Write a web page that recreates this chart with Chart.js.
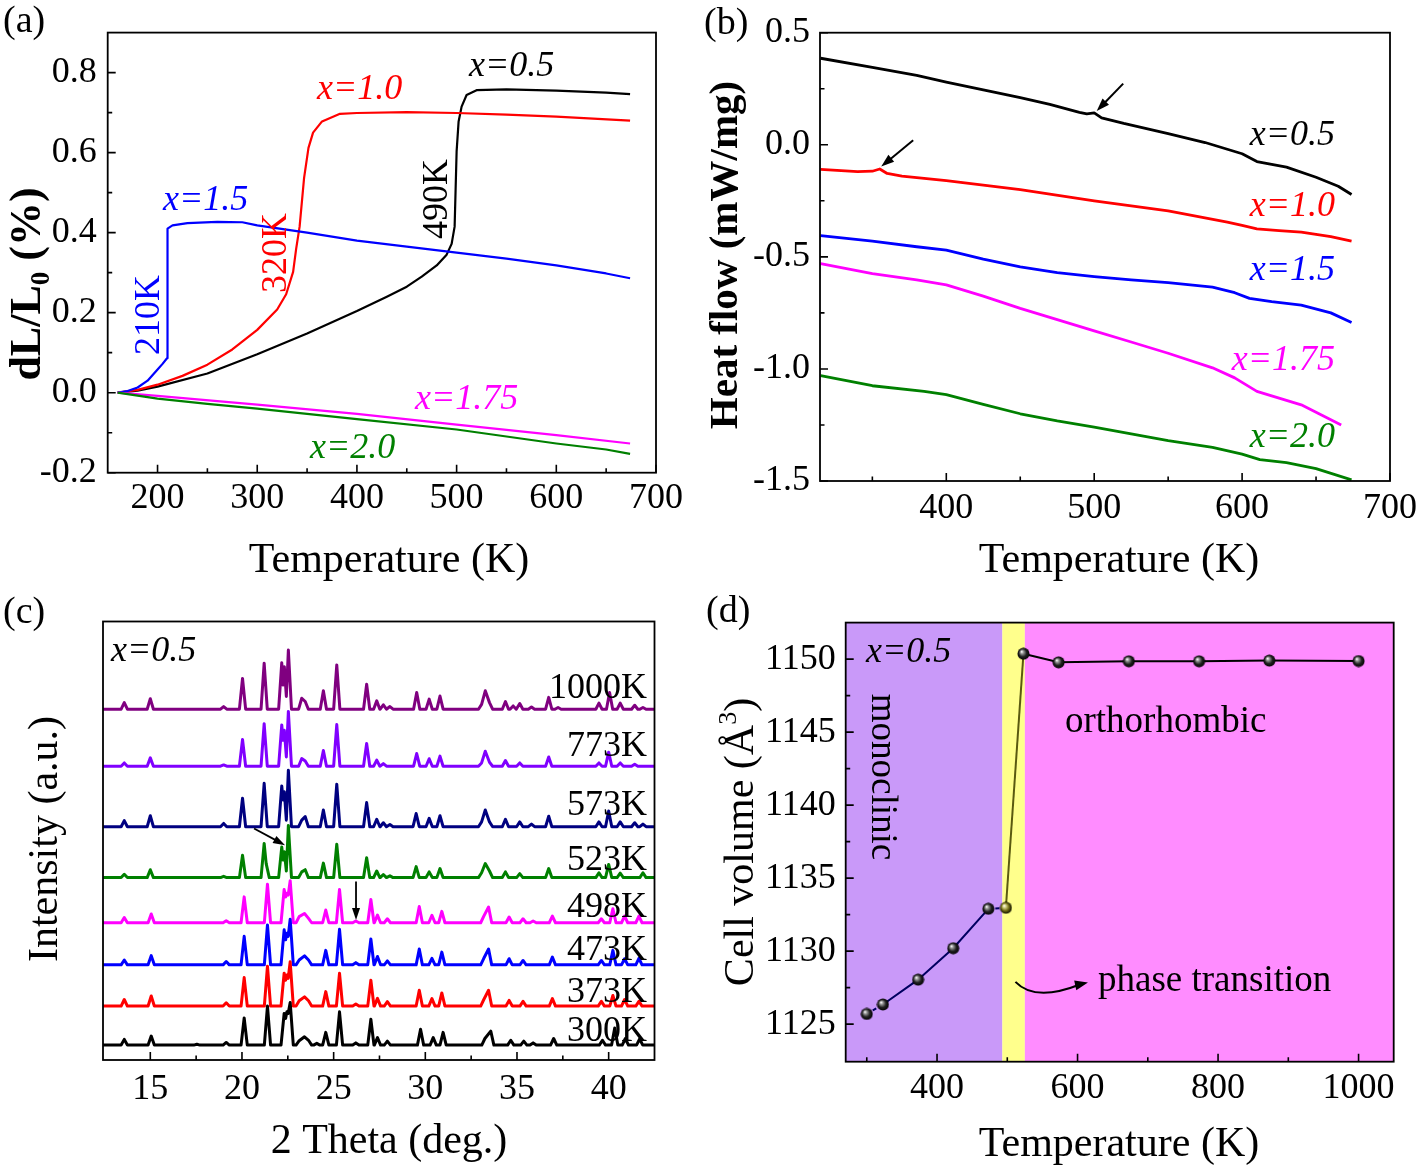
<!DOCTYPE html>
<html><head><meta charset="utf-8">
<script src="https://cdn.jsdelivr.net/npm/chart.js@4.4.1/dist/chart.umd.min.js"></script>
<style>
html,body{margin:0;padding:0;background:#fff;}
body{width:1423px;height:1169px;position:relative;overflow:hidden;}
canvas{position:absolute;}
</style></head><body>
<canvas id="ca" width="700" height="590" style="left:0;top:0"></canvas>
<canvas id="cb" width="723" height="590" style="left:700px;top:0"></canvas>
<canvas id="cc" width="700" height="579" style="left:0;top:590px"></canvas>
<canvas id="cd" width="723" height="579" style="left:700px;top:590px"></canvas>
<script>
// ---------------- DATA ----------------
// (a) dilatometry dL/L0 (%) vs T (K)
const aT05 = [160,180,200,250,300,350,400,430,450,465,480,490,495,498,499,500,502,505,510,520,550,600,650,674];
const aV05 = [0,0.005,0.015,0.048,0.096,0.148,0.204,0.24,0.265,0.29,0.318,0.345,0.372,0.415,0.509,0.603,0.678,0.715,0.744,0.756,0.758,0.755,0.75,0.746];
const aT10 = [160,180,200,225,250,275,300,320,329,336,339,342.5,347,351.4,356,365,383,400,450,500,550,600,674];
const aV10 = [0,0.007,0.02,0.042,0.07,0.108,0.157,0.208,0.246,0.302,0.359,0.415,0.537,0.612,0.65,0.678,0.697,0.699,0.701,0.699,0.695,0.69,0.68];
const aT15 = [160,170,180,190,200,205,209.5,210,215,230,260,285,300,350,400,450,500,550,600,650,674];
const aV15 = [0,0.004,0.013,0.03,0.058,0.072,0.086,0.41,0.418,0.424,0.427,0.426,0.418,0.4,0.38,0.365,0.35,0.335,0.318,0.298,0.286];
const aT175 = [160,200,300,400,500,600,674];
const aV175 = [0,-0.008,-0.03,-0.053,-0.08,-0.106,-0.127];
const aT20 = [160,200,250,300,400,500,600,650,674];
const aV20 = [0,-0.015,-0.028,-0.04,-0.066,-0.092,-0.127,-0.142,-0.153];
const aXTicks = [200,300,400,500,600,700];
const aXMinor = [250,350,450,550,650];
const aYTicks = [-0.2,0,0.2,0.4,0.6,0.8];
const aYMinor = [-0.1,0.1,0.3,0.5,0.7];

// (b) DSC heat flow (mW/mg) vs T (K)
const bT05 = [315,350,380,400,425,450,470,490,495,500,505,520,550,575,590,600,610,630,650,665,674];
const bV05 = [0.386,0.345,0.31,0.28,0.245,0.21,0.18,0.145,0.138,0.142,0.12,0.095,0.05,0.01,-0.02,-0.04,-0.075,-0.1,-0.145,-0.185,-0.222];
const bT10 = [315,340,350,355,360,370,400,450,500,550,590,600,610,625,640,660,674];
const bV10 = [-0.11,-0.12,-0.118,-0.108,-0.128,-0.14,-0.16,-0.2,-0.25,-0.295,-0.345,-0.36,-0.375,-0.383,-0.39,-0.41,-0.43];
const bT15 = [315,350,380,400,425,450,475,500,525,550,580,595,605,620,640,660,674];
const bV15 = [-0.405,-0.43,-0.455,-0.47,-0.51,-0.545,-0.57,-0.588,-0.603,-0.615,-0.635,-0.66,-0.685,-0.7,-0.715,-0.75,-0.793];
const bT175 = [315,350,380,400,425,450,475,500,525,550,580,595,610,625,640,655,667];
const bV175 = [-0.53,-0.575,-0.603,-0.625,-0.675,-0.73,-0.78,-0.83,-0.88,-0.93,-0.995,-1.04,-1.1,-1.13,-1.16,-1.21,-1.25];
const bT20 = [315,350,385,400,425,450,475,500,525,550,580,600,612,630,650,674];
const bV20 = [-1.03,-1.075,-1.1,-1.115,-1.158,-1.2,-1.232,-1.26,-1.29,-1.32,-1.35,-1.38,-1.405,-1.418,-1.445,-1.495];
const bXTicks = [400,500,600,700];
const bXMinor = [350,450,550,650];
const bYTicks = [-1.5,-1.0,-0.5,0,0.5];
const bYMinor = [-1.25,-0.75,-0.25,0.25];

// (c) XRD patterns, x=0.5 : [2theta, intensity] peaks, plus vertical offsets
const xrdLabels = ['300K','373K','473K','498K','523K','573K','773K','1000K'];
const xrdOffsets = [3.4,12.3,21.7,31.3,41.6,53.2,67.0,80.0];
const xrd300 = [[13.58,1.3],[15.05,2.05],[17.54,0.2],[19.14,0.6],[20.12,6.2],[21.39,8.9],[22.3,7.2],[22.38,6.1],[22.45,7.6],[22.52,7.2],[22.63,9.7],[23.12,1.0],[23.41,1.9],[23.63,1.1],[24.08,0.4],[24.57,2.9],[25.32,7.6],[26.21,0.5],[27.03,5.9],[27.39,1.7],[27.93,0.9],[29.74,3.6],[30.43,1.7],[30.97,2.9],[33.25,1.5],[33.57,3.2],[34.66,1.1],[35.37,0.9],[35.88,0.5],[37.0,1.5],[39.66,1.1],[40.33,3.9],[40.91,1.5],[41.69,1.4]];
const xrd373 = [[13.58,1.5],[15.05,2.3],[19.14,0.75],[20.12,6.5],[21.39,9.1],[22.3,7.5],[22.38,5.9],[22.45,7.1],[22.52,6.3],[22.63,10.1],[23.12,1.2],[23.41,2.1],[23.63,1.2],[24.57,3.3],[25.32,7.5],[26.21,0.45],[27.03,5.9],[27.39,1.75],[27.93,1.0],[29.67,3.6],[30.36,1.7],[30.9,3.0],[33.19,1.5],[33.45,3.6],[34.57,1.3],[35.33,1.1],[36.93,1.7],[39.6,1.1],[40.23,2.4],[40.87,1.5],[41.65,1.1]];
const xrd473 = [[13.58,1.1],[15.05,2.1],[19.14,0.75],[20.12,6.5],[21.39,9.1],[22.3,8.0],[22.38,5.7],[22.45,7.2],[22.52,6.5],[22.63,10.4],[23.12,1.1],[23.41,2.05],[23.63,1.1],[24.57,3.3],[25.32,8.1],[26.21,0.5],[27.03,5.9],[27.39,1.9],[27.93,0.9],[29.67,3.6],[30.36,1.5],[30.9,2.9],[33.19,1.5],[33.45,3.6],[34.57,1.4],[35.33,1.0],[36.93,1.75],[39.6,1.0],[40.23,3.3],[40.87,1.4],[41.65,1.5]];
const xrd498 = [[13.58,1.2],[15.05,2.0],[19.14,0.45],[20.12,5.9],[21.39,8.8],[22.3,7.6],[22.38,5.9],[22.45,6.7],[22.52,6.3],[22.63,9.6],[23.12,1.4],[23.41,2.1],[23.63,1.0],[24.57,2.9],[25.32,7.6],[26.21,0.4],[27.03,5.3],[27.39,1.75],[27.93,0.9],[29.67,3.7],[30.36,1.7],[30.9,2.6],[33.19,1.5],[33.45,3.6],[34.57,1.3],[35.33,0.9],[35.88,0.4],[36.93,1.5],[39.6,0.9],[40.23,3.2],[40.87,1.5],[41.65,1.5]];
const xrd523 = [[13.58,0.75],[15.0,1.8],[19.0,0.3],[20.03,5.1],[21.21,7.8],[21.32,3.2],[22.17,7.0],[22.24,4.0],[22.31,5.9],[22.42,1.5],[22.53,11.9],[23.26,1.3],[23.45,1.8],[24.44,3.3],[25.17,7.6],[26.8,4.5],[27.35,1.5],[27.71,0.7],[28.07,0.4],[29.5,2.5],[30.21,1.3],[30.8,2.05],[33.07,1.1],[33.27,3.2],[33.5,1.5],[34.37,1.3],[35.15,0.9],[36.73,2.05],[39.47,1.1],[40.0,3.0],[40.63,1.0],[41.87,1.1]];
const xrd573 = [[13.58,1.4],[15.0,2.5],[19.0,0.75],[20.03,6.5],[21.21,9.9],[22.17,9.3],[22.24,6.1],[22.31,8.0],[22.42,1.5],[22.53,12.9],[23.26,1.5],[23.45,2.3],[24.44,3.8],[25.17,9.7],[26.8,5.5],[27.35,1.7],[27.71,0.9],[28.07,0.5],[29.5,3.0],[30.21,1.9],[30.8,2.5],[33.07,1.1],[33.27,3.8],[33.5,1.1],[34.37,1.7],[35.15,1.1],[35.79,0.6],[36.73,2.4],[39.47,1.1],[40.0,3.6],[40.63,1.1],[41.42,0.9],[41.87,0.6]];
const xrd773 = [[13.58,0.75],[15.0,1.9],[19.0,0.3],[20.03,6.1],[21.21,9.7],[22.17,9.4],[22.24,5.9],[22.31,8.2],[22.42,2.1],[22.53,12.5],[23.26,1.75],[23.45,1.2],[24.44,3.6],[25.17,9.5],[26.8,5.2],[27.35,1.4],[27.71,0.6],[29.53,2.9],[30.21,1.7],[30.8,2.3],[33.07,0.75],[33.27,3.4],[33.5,0.9],[34.37,1.3],[35.15,0.75],[36.73,2.1],[39.47,0.75],[40.0,3.2],[40.63,0.75],[41.42,0.45]];
const xrd1000 = [[13.58,1.5],[15.0,2.4],[19.0,0.6],[20.03,7.0],[21.21,10.5],[22.17,10.6],[22.24,5.5],[22.31,9.7],[22.42,2.9],[22.53,13.5],[23.26,2.5],[23.45,1.75],[24.44,4.2],[25.17,10.1],[26.8,5.7],[27.35,1.9],[27.71,1.0],[28.07,0.6],[29.53,3.8],[30.21,2.3],[30.8,3.0],[33.07,1.1],[33.27,4.2],[33.5,1.5],[34.37,1.75],[34.79,0.75],[35.15,1.3],[35.79,0.5],[36.73,2.7],[37.24,0.4],[39.47,1.4],[40.05,3.8],[40.63,1.4],[41.42,0.9],[41.87,0.4]];
const xrdPatterns = [xrd300,xrd373,xrd473,xrd498,xrd523,xrd573,xrd773,xrd1000];
const cXTicks = [15,20,25,30,35,40];
const cXMinor = [17.5,22.5,27.5,32.5,37.5];

// (d) cell volume vs T
const dT = [300,323,373,423,473,498,523,573,673,773,873,1000];
const dV = [1125.7,1126.35,1128.05,1130.2,1132.9,1132.97,1150.37,1149.78,1149.85,1149.85,1149.9,1149.87];
const dPhaseBounds = [493,525];
const dXTicks = [400,600,800,1000];
const dXMinor = [300,500,700,900];
const dYTicks = [1125,1130,1135,1140,1145,1150];
const dYMinor = [1127.5,1132.5,1137.5,1142.5,1147.5];

// ---------------- HELPERS ----------------
const SERIF = "'Liberation Serif','Times New Roman',serif";
const xy = (xs, ys) => xs.map((x, i) => ({x, y: ys[i]}));

function xrdLine(peaks, offset, xmin, xmax, w) {
  const pts = [{x: xmin, y: offset}];
  peaks.forEach((p, i) => {
    const prev = peaks[i - 1], next = peaks[i + 1];
    if (!prev || p[0] - prev[0] >= 2 * w) pts.push({x: p[0] - w, y: offset});
    pts.push({x: p[0], y: offset + p[1]});
    if (!next || next[0] - p[0] >= 2 * w) pts.push({x: p[0] + w, y: offset});
  });
  pts.push({x: xmax, y: offset});
  return pts;
}

function axisX(min, max, ticks, fmt, height, pad) {
  return {type: 'linear', position: 'bottom', min, max,
    afterBuildTicks: s => { s.ticks = ticks.map(v => ({value: v})); },
    afterFit: s => { s.height = height; },
    grid: {display: false, drawTicks: false}, border: {display: false},
    ticks: {color: '#000', font: {family: SERIF, size: 36}, padding: pad, autoSkip: false, maxRotation: 0, minRotation: 0, callback: fmt}};
}
function axisY(min, max, ticks, fmt, width, pad, show = true) {
  return {type: 'linear', position: 'left', min, max,
    afterBuildTicks: s => { s.ticks = ticks.map(v => ({value: v})); },
    afterFit: s => { s.width = width; },
    grid: {display: false, drawTicks: false}, border: {display: false},
    ticks: {display: show, color: '#000', font: {family: SERIF, size: 36}, padding: pad, autoSkip: false, callback: fmt}};
}

function txt(ctx, s, x, y, font, color = '#000', align = 'left', rot = 0, baseline = 'alphabetic') {
  ctx.save(); ctx.translate(x, y); if (rot) ctx.rotate(rot);
  ctx.font = font; ctx.fillStyle = color; ctx.textAlign = align; ctx.textBaseline = baseline;
  ctx.fillText(s, 0, 0); ctx.restore();
}
function rich(ctx, parts, cx, cy, size, weight, rot) {
  ctx.save(); ctx.translate(cx, cy); if (rot) ctx.rotate(rot);
  const f = m => `${weight} ${m ? Math.round(size * 0.62) : size}px ${SERIF}`;
  let total = 0;
  parts.forEach(([t, m]) => { ctx.font = f(m); total += ctx.measureText(t).width; });
  let x = -total / 2; ctx.textBaseline = 'alphabetic'; ctx.fillStyle = '#000'; ctx.textAlign = 'left';
  parts.forEach(([t, m]) => { ctx.font = f(m); const dy = m === 1 ? size * 0.2 : m === 2 ? -size * 0.4 : 0; ctx.fillText(t, x, dy); x += ctx.measureText(t).width; });
  ctx.restore();
}
function arrow(ctx, x1, y1, x2, y2, head = 13, half = 4.5, lw = 2) {
  const ang = Math.atan2(y2 - y1, x2 - x1);
  ctx.save(); ctx.strokeStyle = '#000'; ctx.fillStyle = '#000'; ctx.lineWidth = lw;
  ctx.beginPath(); ctx.moveTo(x1, y1); ctx.lineTo(x2 - Math.cos(ang) * head * 0.8, y2 - Math.sin(ang) * head * 0.8); ctx.stroke();
  ctx.beginPath(); ctx.moveTo(x2, y2);
  ctx.lineTo(x2 - Math.cos(ang) * head - Math.sin(ang) * half, y2 - Math.sin(ang) * head + Math.cos(ang) * half);
  ctx.lineTo(x2 - Math.cos(ang) * head + Math.sin(ang) * half, y2 - Math.sin(ang) * head - Math.cos(ang) * half);
  ctx.closePath(); ctx.fill(); ctx.restore();
}
const px = (chart, xv, yv) => [chart.scales.x.getPixelForValue(xv), chart.scales.y.getPixelForValue(yv)];

function framePlugin(o) {
  return {
    id: 'frameTicks',
    beforeDatasetsDraw(chart) { if (o.background) o.background(chart, chart.ctx); },
    afterDatasetsDraw(chart) {
      const {ctx, chartArea: a, scales: {x, y}} = chart;
      ctx.save(); ctx.strokeStyle = '#000'; ctx.lineWidth = 1.6;
      ctx.beginPath();
      (o.xMajor || []).forEach(v => { const p = x.getPixelForValue(v); ctx.moveTo(p, a.bottom); ctx.lineTo(p, a.bottom - 8); });
      (o.xMinor || []).forEach(v => { const p = x.getPixelForValue(v); ctx.moveTo(p, a.bottom); ctx.lineTo(p, a.bottom - 4.5); });
      (o.yMajor || []).forEach(v => { const p = y.getPixelForValue(v); ctx.moveTo(a.left, p); ctx.lineTo(a.left + 8, p); });
      (o.yMinor || []).forEach(v => { const p = y.getPixelForValue(v); ctx.moveTo(a.left, p); ctx.lineTo(a.left + 4.5, p); });
      ctx.stroke();
      ctx.lineWidth = 1.8; ctx.strokeRect(a.left, a.top, a.right - a.left, a.bottom - a.top);
      ctx.restore();
      if (o.draw) o.draw(chart, ctx);
    }
  };
}
const baseOpts = (padding, scales) => ({
  responsive: false, animation: false, devicePixelRatio: 1, events: [],
  layout: {padding}, scales,
  plugins: {legend: {display: false}, tooltip: {enabled: false}, title: {display: false}}
});
const line = (data, color, w) => ({data, borderColor: color, borderWidth: w, pointRadius: 0, tension: 0, fill: false, borderJoinStyle: 'round'});

const RED = '#ff0000', BLUE = '#0000ff', MAG = '#ff00ff', GRN = '#008000';
const IT = `italic 36px ${SERIF}`, RM = `36px ${SERIF}`;
const fmt1 = v => v.toFixed(1), fmt0 = v => String(v);

// ---------------- (a) ----------------
new Chart(document.getElementById('ca'), {
  type: 'line',
  data: {datasets: [
    line(xy(aT20, aV20), GRN, 2.2), line(xy(aT175, aV175), MAG, 2.2),
    line(xy(aT15, aV15), BLUE, 2.2), line(xy(aT10, aV10), RED, 2.2), line(xy(aT05, aV05), '#000', 2.2)]},
  options: baseOpts({left: 0, top: 31, right: 44, bottom: 0}, {
    x: axisX(150, 700, aXTicks, fmt0, 117.3, 4),
    y: axisY(-0.2, 0.9, aYTicks, fmt1, 107.7, 11)}),
  plugins: [framePlugin({xMajor: aXTicks, xMinor: aXMinor, yMajor: aYTicks, yMinor: aYMinor,
    draw(chart, ctx) {
      txt(ctx, '(a)', 3, 32, `38px ${SERIF}`);
      txt(ctx, 'Temperature (K)', 389, 572, `42px ${SERIF}`, '#000', 'center');
      rich(ctx, [['dL/L', 0], ['0', 1], [' (%)', 0]], 40, 284, 44, 'bold', -Math.PI / 2);
      txt(ctx, 'x=0.5', 469, 76, IT, '#000');
      txt(ctx, 'x=1.0', 317, 99, IT, RED);
      txt(ctx, 'x=1.5', 163, 210, IT, BLUE);
      txt(ctx, 'x=1.75', 415, 409, IT, MAG);
      txt(ctx, 'x=2.0', 310, 458, IT, GRN);
      txt(ctx, '210K', 159, 315, RM, BLUE, 'center', -Math.PI / 2);
      txt(ctx, '320K', 286, 253, RM, RED, 'center', -Math.PI / 2);
      txt(ctx, '490K', 447, 199, RM, '#000', 'center', -Math.PI / 2);
    }})]
});

// ---------------- (b) ----------------
new Chart(document.getElementById('cb'), {
  type: 'line',
  data: {datasets: [
    line(xy(bT20, bV20), GRN, 2.8), line(xy(bT175, bV175), MAG, 2.8),
    line(xy(bT15, bV15), BLUE, 2.8), line(xy(bT10, bV10), RED, 2.8), line(xy(bT05, bV05), '#000', 2.8)]},
  options: baseOpts({left: 0, top: 32.7, right: 31.3, bottom: 0}, {
    x: axisX(314.6, 700, bXTicks, fmt0, 109, 6),
    y: axisY(-1.5, 0.5, bYTicks, fmt1, 120, 10)}),
  plugins: [framePlugin({xMajor: bXTicks, xMinor: bXMinor, yMajor: bYTicks, yMinor: bYMinor,
    draw(chart, ctx) {
      txt(ctx, '(b)', 4, 34, `38px ${SERIF}`);
      txt(ctx, 'Temperature (K)', 419, 572, `42px ${SERIF}`, '#000', 'center');
      rich(ctx, [['Heat flow (mW/mg)', 0]], 37, 255, 41, 'bold', -Math.PI / 2);
      txt(ctx, 'x=0.5', 635, 145, IT, '#000', 'right');
      txt(ctx, 'x=1.0', 635, 216, IT, RED, 'right');
      txt(ctx, 'x=1.5', 635, 280, IT, BLUE, 'right');
      txt(ctx, 'x=1.75', 635, 370, IT, MAG, 'right');
      txt(ctx, 'x=2.0', 635, 447, IT, GRN, 'right');
      let [x1, y1] = px(chart, 519.6, 0.273), [x2, y2] = px(chart, 501.7, 0.151);
      arrow(ctx, x1, y1, x2, y2);
      [x1, y1] = px(chart, 377.6, 0.02); [x2, y2] = px(chart, 356, -0.097);
      arrow(ctx, x1, y1, x2, y2);
    }})]
});

// ---------------- (c) ----------------
const xrdColors = ['#000000', '#ff0000', '#0000ff', '#ff00ff', '#008000', '#000080', '#8000ff', '#800080'];
new Chart(document.getElementById('cc'), {
  type: 'line',
  data: {datasets: xrdPatterns.map((p, i) => line(xrdLine(p, xrdOffsets[i], 12.42, 42.5, 0.17), xrdColors[i], 3))},
  options: baseOpts({left: 0, top: 31.5, right: 45.5, bottom: 0}, {
    x: axisX(12.42, 42.5, cXTicks, fmt0, 109, 8),
    y: axisY(0, 100, [], fmt0, 103, 0, false)}),
  plugins: [framePlugin({xMajor: cXTicks, xMinor: cXMinor,
    draw(chart, ctx) {
      txt(ctx, '(c)', 3, 33, `38px ${SERIF}`);
      txt(ctx, '2 Theta (deg.)', 389, 563, `42px ${SERIF}`, '#000', 'center');
      rich(ctx, [['Intensity (a.u.)', 0]], 57, 249, 42, 'normal', -Math.PI / 2);
      txt(ctx, 'x=0.5', 111, 71, IT, '#000');
      const lblY = [450.7, 411.7, 370, 326.7, 280, 225, 166, 108.3];
      xrdLabels.forEach((l, i) => txt(ctx, l, 647, lblY[i], RM, '#000', 'right'));
      let [x1, y1] = px(chart, 20.66, 52.8), [x2, y2] = px(chart, 22.35, 49.0);
      arrow(ctx, x1, y1, x2, y2, 12, 4, 1.8);
      [x1, y1] = px(chart, 26.22, 40.7); [x2, y2] = px(chart, 26.22, 31.9);
      arrow(ctx, x1, y1, x2, y2, 12, 4, 1.8);
    }})]
});

// ---------------- (d) ----------------
function sphere(base, mid) {
  const c = document.createElement('canvas'); c.width = c.height = 13;
  const g = c.getContext('2d');
  const gr = g.createRadialGradient(4.6, 4.3, 0.3, 6.5, 6.5, 6.3);
  gr.addColorStop(0, '#ffffff'); gr.addColorStop(0.22, mid); gr.addColorStop(0.6, base); gr.addColorStop(1, '#000000');
  g.fillStyle = gr; g.beginPath(); g.arc(6.5, 6.5, 6, 0, Math.PI * 2); g.fill();
  return c;
}
const ballBlack = sphere('#202020', '#9a9a9a'), ballOlive = sphere('#6e6a10', '#d8d488');
const dSegColors = ['#000060', '#000060', '#000060', '#000060', '#000060', '#5a5a10', '#000', '#000', '#000', '#000', '#000'];
new Chart(document.getElementById('cd'), {
  type: 'line',
  data: {datasets: [{
    data: xy(dT, dV), borderWidth: 2, borderColor: '#000', tension: 0, fill: false,
    pointRadius: 6, pointStyle: dT.map((t, i) => i === 5 ? ballOlive : ballBlack),
    segment: {borderColor: c => dSegColors[c.p0DataIndex], borderDash: c => (c.p0DataIndex === 0 || c.p0DataIndex === 4) ? [4, 3] : undefined}
  }]},
  options: baseOpts({left: 0, top: 32.6, right: 29.3, bottom: 0}, {
    x: axisX(270, 1050, dXTicks, fmt0, 107.3, 5),
    y: axisY(1122.43, 1152.5, dYTicks, fmt0, 145.7, 10)}),
  plugins: [framePlugin({xMajor: dXTicks, xMinor: dXMinor, yMajor: dYTicks, yMinor: dYMinor,
    background(chart, ctx) {
      const {chartArea: a, scales: {x}} = chart;
      const b0 = x.getPixelForValue(dPhaseBounds[0]), b1 = x.getPixelForValue(dPhaseBounds[1]);
      ctx.save();
      ctx.fillStyle = '#c999f9'; ctx.fillRect(a.left, a.top, b0 - a.left, a.bottom - a.top);
      ctx.fillStyle = '#ffff8c'; ctx.fillRect(b0, a.top, b1 - b0, a.bottom - a.top);
      ctx.fillStyle = '#ff8cff'; ctx.fillRect(b1, a.top, a.right - b1, a.bottom - a.top);
      ctx.restore();
    },
    draw(chart, ctx) {
      txt(ctx, '(d)', 6, 32, `38px ${SERIF}`);
      txt(ctx, 'Temperature (K)', 419, 566, `42px ${SERIF}`, '#000', 'center');
      rich(ctx, [['Cell volume (Å', 0], ['3', 2], [')', 0]], 53, 252, 42, 'normal', -Math.PI / 2);
      txt(ctx, 'x=0.5', 166, 72, IT, '#000');
      txt(ctx, 'orthorhombic', 365, 142, `37px ${SERIF}`);
      txt(ctx, 'phase transition', 398, 401, `37px ${SERIF}`);
      txt(ctx, 'monoclinic', 172, 187, `37px ${SERIF}`, '#000', 'center', Math.PI / 2);
      const [sx, sy] = px(chart, 511.6, 1127.9), [cx, cy] = px(chart, 539.4, 1126.5), [ex, ey] = px(chart, 614.8, 1127.85);
      ctx.save(); ctx.strokeStyle = '#000'; ctx.lineWidth = 2;
      ctx.beginPath(); ctx.moveTo(sx, sy); ctx.quadraticCurveTo(cx, cy, ex - 8, ey + 2); ctx.stroke(); ctx.restore();
      arrow(ctx, ex - 14, ey + 3, ex, ey, 13, 5, 0.1);
    }})]
});
</script>
</body></html>
